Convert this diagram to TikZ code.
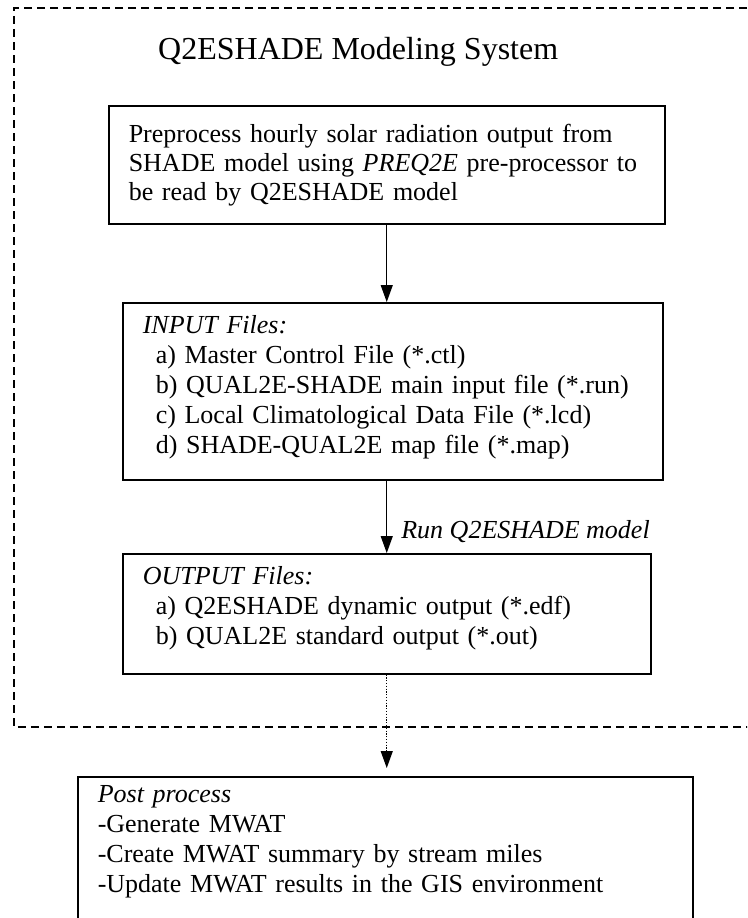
\documentclass[tikz,border=0pt]{standalone}
\usepackage{fontspec}
\setmainfont{Liberation Serif}
\usetikzlibrary{arrows.meta}

\begin{document}
\begin{tikzpicture}[x=1pt,y=-1pt]
  \tikzstyle{stage}=[draw,rectangle,line width=1.5pt,anchor=north west,align=left,
    inner xsep=20pt,inner ysep=0pt,font=\fontsize{26}{30}\selectfont]
  \tikzstyle{edge} = [draw,line width=1.2pt,-{Triangle[length=17pt,width=12pt]}]
  \tikzstyle{frame} = [draw,line width=1.5pt,dash pattern=on 8pt off 5pt]

  \clip (0,0) rectangle (747,918);
  \useasboundingbox (0,0) rectangle (747,918);

  % modeling system frame (open to the right)
  \path[frame] (760,8) -- (14,8) -- (14,727) -- (760,727);
  \node[anchor=base west,inner sep=0pt,font=\fontsize{32}{38}\selectfont] (title) at (158,59) {Q2ESHADE Modeling System};

  \node[stage,text width=516pt,text height=37pt,text depth=81pt,font=\fontsize{26}{29}\selectfont] (pre) at (108,105)
    {Preprocess hourly solar radiation output from\\
     SHADE model using \textit{PREQ2E} pre-processor to\\
     be read by Q2ESHADE model};
  \node[stage,text width=500pt,text height=31pt,text depth=146pt] (input) at (122,302)
    {\textit{INPUT Files:}\\
     \hspace*{13pt}a) Master Control File (*.ctl)\\
     \hspace*{13pt}b) QUAL2E-SHADE main input file (*.run)\\
     \hspace*{13pt}c) Local Climatological Data File (*.lcd)\\
     \hspace*{13pt}d) SHADE-QUAL2E map file (*.map)};
  \node[stage,text width=488pt,text height=31pt,text depth=89pt] (output) at (122,553)
    {\textit{OUTPUT Files:}\\
     \hspace*{13pt}a) Q2ESHADE dynamic output (*.edf)\\
     \hspace*{13pt}b) QUAL2E standard output (*.out)};
  \node[stage,text width=575pt,text height=26pt,text depth=160pt] (post) at (77,776)
    {\textit{Post process}\\
     -Generate MWAT\\
     -Create MWAT summary by stream miles\\
     -Update MWAT results in the GIS environment};

  \path[edge] (pre.south) -- (input.north -| pre.south);
  \path[edge] (input.south -| output.north) -- node[pos=0.8,anchor=base west,xshift=14pt,inner sep=0pt,font=\fontsize{26}{30}\selectfont\itshape] (run) {Run Q2ESHADE model} (output.north);
  \path[edge,dash pattern=on 1.2pt off 1.6pt,shorten >=8pt] (output.south) -- (post.north -| output.south);
\end{tikzpicture}
\end{document}
